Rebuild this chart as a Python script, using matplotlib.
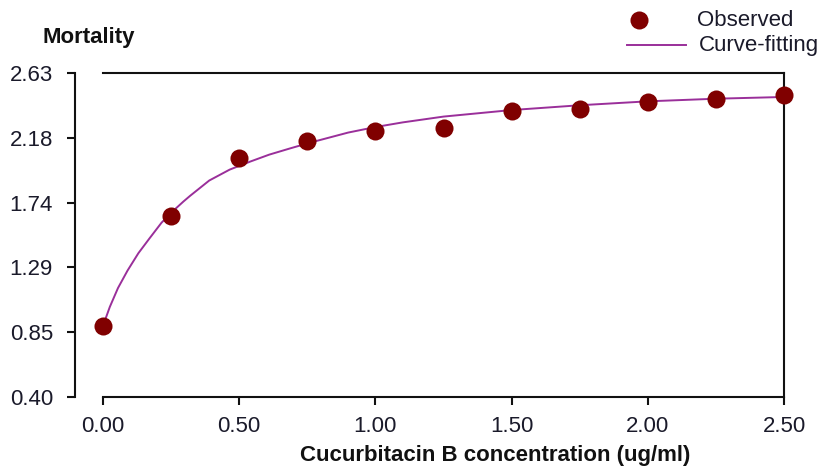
import matplotlib
matplotlib.use("Agg")
import matplotlib.pyplot as plt
from matplotlib.lines import Line2D
import numpy as np

plt.rcParams['font.family'] = ['Liberation Sans', 'DejaVu Sans']

# Observed data
conc = [0.00, 0.25, 0.50, 0.75, 1.00, 1.25, 1.50, 1.75, 2.00, 2.25, 2.50]
mortality = [0.886, 1.649, 2.045, 2.164, 2.228, 2.252, 2.366, 2.384, 2.430, 2.453, 2.476]

# Fitted curve values
fit_x = [0.00, 0.025, 0.055, 0.09, 0.13, 0.17, 0.215, 0.257, 0.295, 0.32, 0.39,
         0.465, 0.54, 0.61, 0.685, 0.755, 0.90, 1.00, 1.10, 1.25, 1.50, 1.75,
         2.00, 2.25, 2.50]
fit_y = [0.89, 1.02, 1.15, 1.27, 1.39, 1.49, 1.60, 1.68, 1.745, 1.785, 1.89,
         1.965, 2.02, 2.068, 2.11, 2.148, 2.22, 2.258, 2.29, 2.33, 2.375, 2.408,
         2.435, 2.453, 2.465]

xticks = [0.00, 0.50, 1.00, 1.50, 2.00, 2.50]
xticklabels = ["0.00", "0.50", "1.00", "1.50", "2.00", "2.50"]
yticklabels = ["0.40", "0.85", "1.29", "1.74", "2.18", "2.63"]

W, H = 829, 470
fig = plt.figure(figsize=(W / 100, H / 100), dpi=100)
ax = fig.add_axes([103 / W, 1 - 397 / H, (784 - 103) / W, (397 - 73) / H])

CURVE = "#9a2f9a"
DOT = "#800000"
FS = 16

ax.plot(fit_x, fit_y, color=CURVE, lw=1.4, clip_on=False, zorder=3,
        solid_joinstyle='round')
ax.plot(conc, mortality, 'o', color=DOT, ms=13, clip_on=False, zorder=4,
        markeredgewidth=0)

ax.set_xlim(0, 2.5)
ax.set_ylim(0.40, 2.63)
ax.set_xticks(xticks)
ax.set_xticklabels(xticklabels)
ax.set_yticks(np.linspace(0.40, 2.63, 6))
ax.set_yticklabels(yticklabels)

for s in ax.spines.values():
    s.set_linewidth(1.5)
    s.set_color("#111111")
ax.spines['left'].set_position(('outward', 20))

ax.tick_params(axis='both', direction='out', length=6, width=1.5, colors="#111111",
               labelsize=FS, labelcolor="#1a1a2a")
ax.tick_params(axis='y', pad=10)
ax.tick_params(axis='x', pad=8)

fig.text(43 / W, 1 - 38 / H, "Mortality", fontsize=FS, fontweight='bold',
         ha='left', va='center', color="#111111")
fig.text(495 / W, 1 - 456 / H, "Cucurbitacin B concentration (ug/ml)", fontsize=FS,
         fontweight='bold', ha='center', va='center', color="#111111")

# Legend drawn manually
fig.add_artist(Line2D([639 / W], [1 - 20 / H], marker='o', color=DOT, ms=13,
                      markeredgewidth=0, linestyle='none'))
fig.add_artist(Line2D([627 / W, 686 / W], [1 - 45 / H, 1 - 45 / H], color=CURVE, lw=1.4))
fig.text(697 / W, 1 - 20 / H, "Observed", fontsize=FS, ha='left', va='center', color="#1a1a2a")
fig.text(699 / W, 1 - 45 / H, "Curve-fitting", fontsize=FS, ha='left', va='center', color="#1a1a2a")

fig.savefig("out.png", dpi=100)
